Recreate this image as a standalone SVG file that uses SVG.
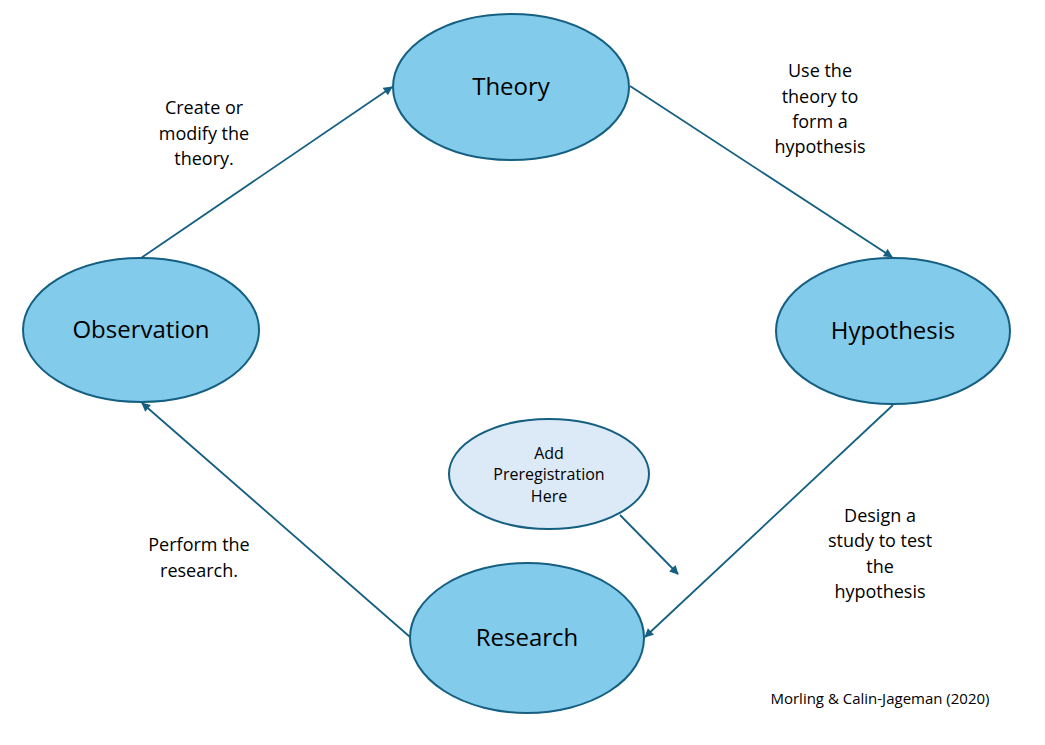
<svg xmlns="http://www.w3.org/2000/svg" width="1045" height="745" viewBox="0 0 1045 745">
<style>
.n{fill:#83CBEB;stroke:#156082;stroke-width:2}
.p{fill:#DCEAF7;stroke:#156082;stroke-width:2}
.t{font-family:"Open Sans","Liberation Sans",sans-serif;fill:#000;text-anchor:middle}
.big{font-size:24px}
.lbl{font-size:18px}
.sm{font-size:16px}
.c{fill:none;stroke:#156082;stroke-width:1.8;marker-end:url(#a)}
</style>
<defs>
<marker id="a" viewBox="0 0 10 10" refX="9" refY="5" markerWidth="10" markerHeight="9" orient="auto" markerUnits="userSpaceOnUse">
<path d="M0,0 L10,5 L0,10 z" fill="#156082"/>
</marker>
</defs>
<rect width="1045" height="745" fill="#fff"/>
<g id="connectors">
<line class="c" x1="141" y1="258" x2="392" y2="87"/>
<line class="c" x1="630" y1="86" x2="892" y2="257"/>
<line class="c" x1="893" y1="405" x2="645" y2="637"/>
<line class="c" x1="410" y1="637" x2="142" y2="403"/>
<line class="c" x1="620" y1="515" x2="678" y2="574"/>
</g>
<g id="theory"><ellipse class="n" cx="511" cy="87" rx="118" ry="73"/><text class="t big" x="511" y="95">Theory</text></g>
<g id="hypothesis"><ellipse class="n" cx="893" cy="331" rx="117" ry="73"/><text class="t big" x="893" y="339">Hypothesis</text></g>
<g id="observation"><ellipse class="n" cx="141" cy="330" rx="118" ry="72"/><text class="t big" x="141" y="338">Observation</text></g>
<g id="research"><ellipse class="n" cx="527" cy="638" rx="117" ry="75"/><text class="t big" x="527" y="646">Research</text></g>
<g id="prereg"><ellipse class="p" cx="549" cy="474" rx="100" ry="55"/><text class="t sm"><tspan x="549" y="459">Add</tspan><tspan x="549" y="480">Preregistration</tspan><tspan x="549" y="502">Here</tspan></text></g>
<g id="labels">
<text class="t lbl"><tspan x="204" y="114">Create or</tspan><tspan x="204" y="140">modify the</tspan><tspan x="204" y="165">theory.</tspan></text>
<text class="t lbl"><tspan x="820" y="77">Use the</tspan><tspan x="820" y="103">theory to</tspan><tspan x="820" y="128">form a</tspan><tspan x="820" y="153">hypothesis</tspan></text>
<text class="t lbl"><tspan x="880" y="522">Design a</tspan><tspan x="880" y="547">study to test</tspan><tspan x="880" y="573">the</tspan><tspan x="880" y="598">hypothesis</tspan></text>
<text class="t lbl"><tspan x="199" y="551">Perform the</tspan><tspan x="199" y="577">research.</tspan></text>
<text class="t" style="font-size:15px" x="880" y="704">Morling &amp; Calin-Jageman (2020)</text>
</g>
</svg>
